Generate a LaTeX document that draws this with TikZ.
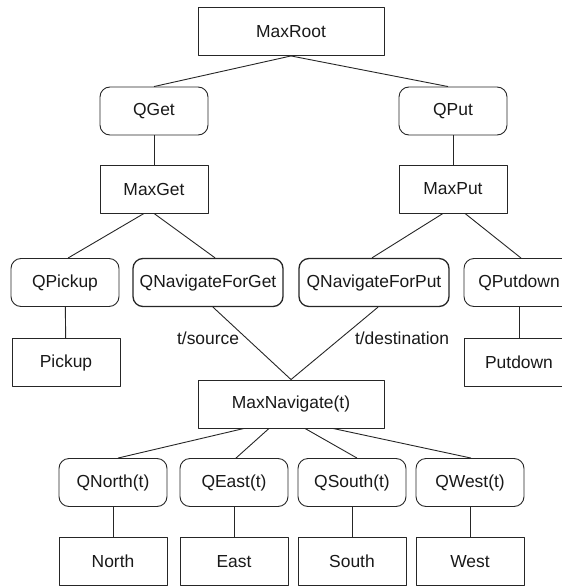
\documentclass[tikz,border=0pt]{standalone}
\usepackage{fontspec}
\setmainfont{Liberation Sans}
\tikzset{
  maxnode/.style={draw, minimum height=48bp, minimum width=108bp, inner sep=0pt},
  qnode/.style={maxnode, rounded corners=10bp},
  qnav/.style={qnode, line width=1.3bp, minimum width=150bp},
  lbl/.style={inner sep=0pt}
}
\begin{document}
\begin{tikzpicture}[x=1bp,y=-1bp,line join=round,line width=0.9bp,draw=black!85,text=black!90,font=\fontsize{17.5}{20}\selectfont]
				\useasboundingbox (0,0) rectangle (562,587);
				\clip (0,0) rectangle (562,587);
				% root and the get/put branches
				\node[maxnode, minimum width=186bp] (maxroot) at (291,31.5) {MaxRoot};
				\node[qnode] (qget) at (154,111) {QGet};
				\node[qnode] (qput) at (453,111) {QPut};
				\node[maxnode] (maxget) at (154,189) {MaxGet};
				\node[maxnode] (maxput) at (453,189) {MaxPut};
				\draw (maxroot.south) -- (qget.north);
				\draw (maxroot.south) -- ([xshift=-5bp]qput.north);
				\draw (qget) -- (maxget);
				\draw (qput) -- (maxput);
				% pickup, putdown and the two navigate calls
				\node[qnode] (qpickup) at (65,282.5) {QPickup};
				\node[qnav] (qnavget) at (208,282.5) {QNavigateForGet};
				\node[qnav] (qnavput) at (374,282.5) {QNavigateForPut};
				\node[qnode, minimum width=110bp] (qputdown) at (519,282.5) {QPutdown};
				\node[maxnode] (pickup) at (66,362.5) {Pickup};
				\node[maxnode, minimum width=110bp] (putdown) at (519,362.5) {Putdown};
				\draw ([xshift=-10bp]maxget.south) -- ([xshift=3bp]qpickup.north);
				\draw (maxget.south) -- ([xshift=7bp]qnavget.north);
				\draw ([xshift=-10bp]maxput.south) -- ([xshift=-2bp]qnavput.north);
				\draw ([xshift=12bp]maxput.south) -- ([xshift=2bp]qputdown.north);
				\draw (qpickup) -- (pickup);
				\draw (qputdown) -- (putdown);
				% shared navigate subtask
				\node[maxnode, minimum width=186bp] (maxnav) at (291,404) {MaxNavigate(t)};
				\draw ([xshift=5bp]qnavget.south) -- node[lbl, pos=0.43, left=7bp] {t/source} (maxnav.north);
				\draw ([xshift=4bp]qnavput.south) -- node[lbl, pos=0.43, right=14bp] {t/destination} (maxnav.north);
				% four moves
				\foreach \dir/\x/\s/\t in {North/113/-47/5,East/234/-22/2,South/352/14/5,West/470/42/1}{
					\node[qnode] (q\dir) at (\x,482.5) {Q\dir(t)};
					\node[maxnode] (\dir) at (\x,561.5) {\dir};
					\draw ([xshift=\s bp]maxnav.south) -- ([xshift=\t bp]q\dir.north);
					\draw (q\dir) -- (\dir);
				}
			\end{tikzpicture}
\end{document}
